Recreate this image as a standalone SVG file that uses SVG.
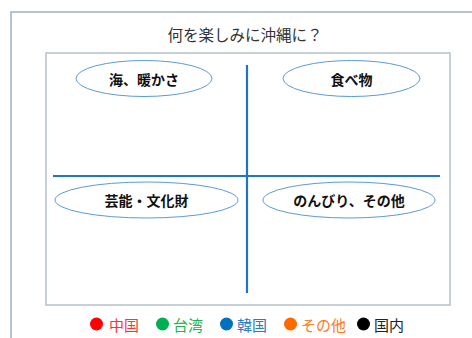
<svg xmlns="http://www.w3.org/2000/svg" width="472" height="338" viewBox="0 0 472 338">
<style>
text{font-family:"Noto Sans CJK JP","Noto Sans CJK SC",sans-serif;}
.lbl{font-size:14px;font-weight:bold;fill:#111;text-anchor:middle;dominant-baseline:central;}
.ell{fill:#fff;stroke:#5b9bd5;stroke-width:1;}
.leg{font-size:15px;dominant-baseline:central;}
.axis{stroke:#1f74c4;stroke-width:2.2;}
</style>
<rect x="0" y="0" width="472" height="338" fill="#fff"/>
<rect x="11" y="12" width="470" height="340" fill="none" stroke="#9fb3bd" stroke-width="1.5"/>
<text x="245" y="34" font-size="15.5" fill="#333" text-anchor="middle" dominant-baseline="central">何を楽しみに沖縄に？</text>
<rect x="46" y="53" width="404" height="252" fill="#fff" stroke="#b4c1c8" stroke-width="1.5"/>
<g id="connectors">
<line class="axis" x1="247" y1="65" x2="247" y2="293"/>
<line class="axis" x1="53" y1="176" x2="440" y2="176"/>
</g>
<g id="n1"><ellipse class="ell" cx="144" cy="78.5" rx="68" ry="18"/><text class="lbl" x="144" y="78.5">海、暖かさ</text></g>
<g id="n2"><ellipse class="ell" cx="351.5" cy="78.5" rx="68.5" ry="18"/><text class="lbl" x="351.5" y="78.5">食べ物</text></g>
<g id="n3"><ellipse class="ell" cx="146.5" cy="200" rx="91.5" ry="18"/><text class="lbl" x="146.5" y="200">芸能・文化財</text></g>
<g id="n4"><ellipse class="ell" cx="349" cy="200" rx="86" ry="18"/><text class="lbl" x="349" y="200">のんびり、その他</text></g>
<g id="legend">
<circle cx="96.5" cy="324" r="6.5" fill="#ff0000"/><text class="leg" x="109" y="324" fill="#ff3333">中国</text>
<circle cx="162.5" cy="324" r="6.5" fill="#00b050"/><text class="leg" x="173" y="324" fill="#22b555">台湾</text>
<circle cx="226.5" cy="324" r="6.5" fill="#0070c0"/><text class="leg" x="237" y="324" fill="#2a7cc4">韓国</text>
<circle cx="290.5" cy="324" r="6.5" fill="#ff6a00"/><text class="leg" x="301" y="324" fill="#ff7a1a">その他</text>
<circle cx="363.5" cy="324" r="6.5" fill="#000"/><text class="leg" x="374" y="324" fill="#222">国内</text>
</g>
</svg>
